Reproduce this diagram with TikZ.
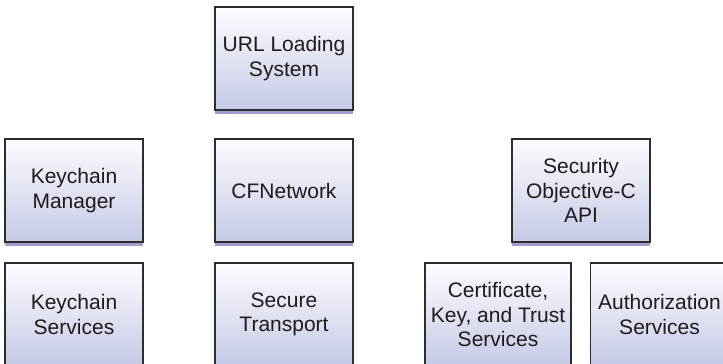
\documentclass[tikz,border=0pt]{standalone}
\usepackage{fontspec}
\setmainfont{Liberation Sans}
\definecolor{boxtop}{RGB}{253,253,255}
\definecolor{boxbottom}{RGB}{197,202,230}
\definecolor{boxshadow}{RGB}{160,160,208}
\definecolor{boxline}{RGB}{45,45,45}
\definecolor{boxtext}{RGB}{30,27,28}
\begin{document}
\begin{tikzpicture}[x=1pt, y=-1pt,
  layer/.style={rectangle, draw=boxline, line width=1.2pt,
    top color=boxtop, bottom color=boxbottom,
    preaction={fill=boxshadow, transform canvas={yshift=-3.5pt}},
    minimum width=138pt, minimum height=103pt, inner sep=0pt,
    align=center, text=boxtext, font=\fontsize{21}{24.5}\selectfont},
  wide/.style={layer, minimum width=146pt}]
  \useasboundingbox (0, 0) rectangle (723, 364);

  \node[layer] (url) at (284, 58.5) {URL Loading\\System};

  \node[layer] (manager) at (74, 190.5) {Keychain\\Manager};
  \node[layer] (cfnetwork) at (284, 190.5) {CFNetwork};
  \node[layer] (security) at (581, 190.5) {Security\\Objective-C\\API};

  \node[layer] (keychain) at (74, 314.5) {Keychain\\Services};
  \node[layer] (transport) at (284, 314.5) {Secure\\Transport};
  \node[wide] (trust) at (498, 314.5) {Certificate,\\Key, and Trust\\Services};
  \node[layer] (authorization) at (659.5, 314.5) {Authorization\\Services};
\end{tikzpicture}
\end{document}
